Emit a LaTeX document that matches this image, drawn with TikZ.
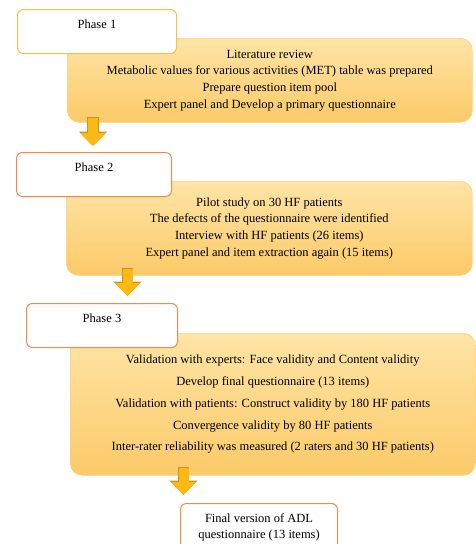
\documentclass[tikz,border=0pt]{standalone}
\usepackage{fontspec}
\setmainfont{Liberation Serif}
\usetikzlibrary{positioning, arrows.meta}
\definecolor{phaseyellow}{HTML}{F7C244}
\definecolor{phaseorange}{HTML}{F28A4E}
\definecolor{tasktop}{HTML}{FFE4A6}
\definecolor{taskbottom}{HTML}{FBCA68}
\definecolor{taskline}{HTML}{FCD27C}
\definecolor{arrowfill}{HTML}{FDB913}
\definecolor{arrowline}{HTML}{C8961E}

\begin{document}
\begin{tikzpicture}[x=1pt, y=-1pt,
		every node/.style={font=\fontsize{12.5}{16.7}\selectfont},
		phase/.style={draw, line width=1pt, fill=white, rounded corners=6pt, minimum height=44pt, inner ysep=8pt, text height=10.5pt, text depth=17.5pt, anchor=north west},
		task/.style={draw=taskline, line width=0.6pt, top color=tasktop, bottom color=taskbottom, rounded corners=12pt, align=center, anchor=north west},
		bigarrow/.style={line width=10pt, draw=arrowfill, -{Triangle[width=25pt, length=13pt]}, preaction={draw=arrowline, line width=11.4pt, shorten <=-0.7pt, -{Triangle[width=27.5pt, length=14.5pt]}}}]
		\useasboundingbox (0,0) rectangle (476,544);
		
		\node[task, minimum width=405pt, minimum height=84pt] (taskA) at (67,38) {Literature review\\ Metabolic values for various activities (MET) table was prepared\\ Prepare question item pool\\ Expert panel and Develop a primary questionnaire};
		\node[phase, draw=phaseyellow, minimum width=159pt] (phaseA) at (17,9) {Phase 1};
		
		\coordinate (arrA1) at (93,118);
		\coordinate (arrA2) at (93,146);
		\draw[bigarrow] (arrA1) -- (arrA2);
		
		\node[task, minimum width=406pt, minimum height=94pt] (taskB) at (66,181) {Pilot study on 30 HF patients\\ The defects of the questionnaire were identified\\ Interview with HF patients (26 items)\\ Expert panel and item extraction again (15 items)};
		\node[phase, draw=phaseorange, minimum width=155pt] (phaseB) at (16,152) {Phase 2};
		
		\coordinate (arrB1) at (127.5,269);
		\coordinate (arrB2) at (127.5,296);
		\draw[bigarrow] (arrB1) -- (arrB2);
		
		\node[task, minimum width=405pt, minimum height=142pt, font=\fontsize{12.5}{21.8}\selectfont] (taskC) at (70,333) {Validation with experts: Face validity and Content validity\\ Develop final questionnaire (13 items)\\ Validation with patients: Construct validity by 180 HF patients\\ Convergence validity by 80 HF patients\\ Inter-rater reliability was measured (2 raters and 30 HF patients)};
		\node[phase, draw=phaseorange, minimum width=151pt, minimum height=43pt] (phaseC) at (26,303) {Phase 3};
		
		\coordinate (arrC1) at (183.5,468);
		\coordinate (arrC2) at (183.5,495);
		\draw[bigarrow] (arrC1) -- (arrC2);
		
		\node[draw=phaseorange, line width=1pt, fill=white, rounded corners=6pt, minimum width=157pt, minimum height=48pt, align=center, anchor=north west, font=\fontsize{12.5}{16}\selectfont] (final) at (180,503) {Final version of ADL\\ questionnaire (13 items)};
		
	\end{tikzpicture}
\end{document}
